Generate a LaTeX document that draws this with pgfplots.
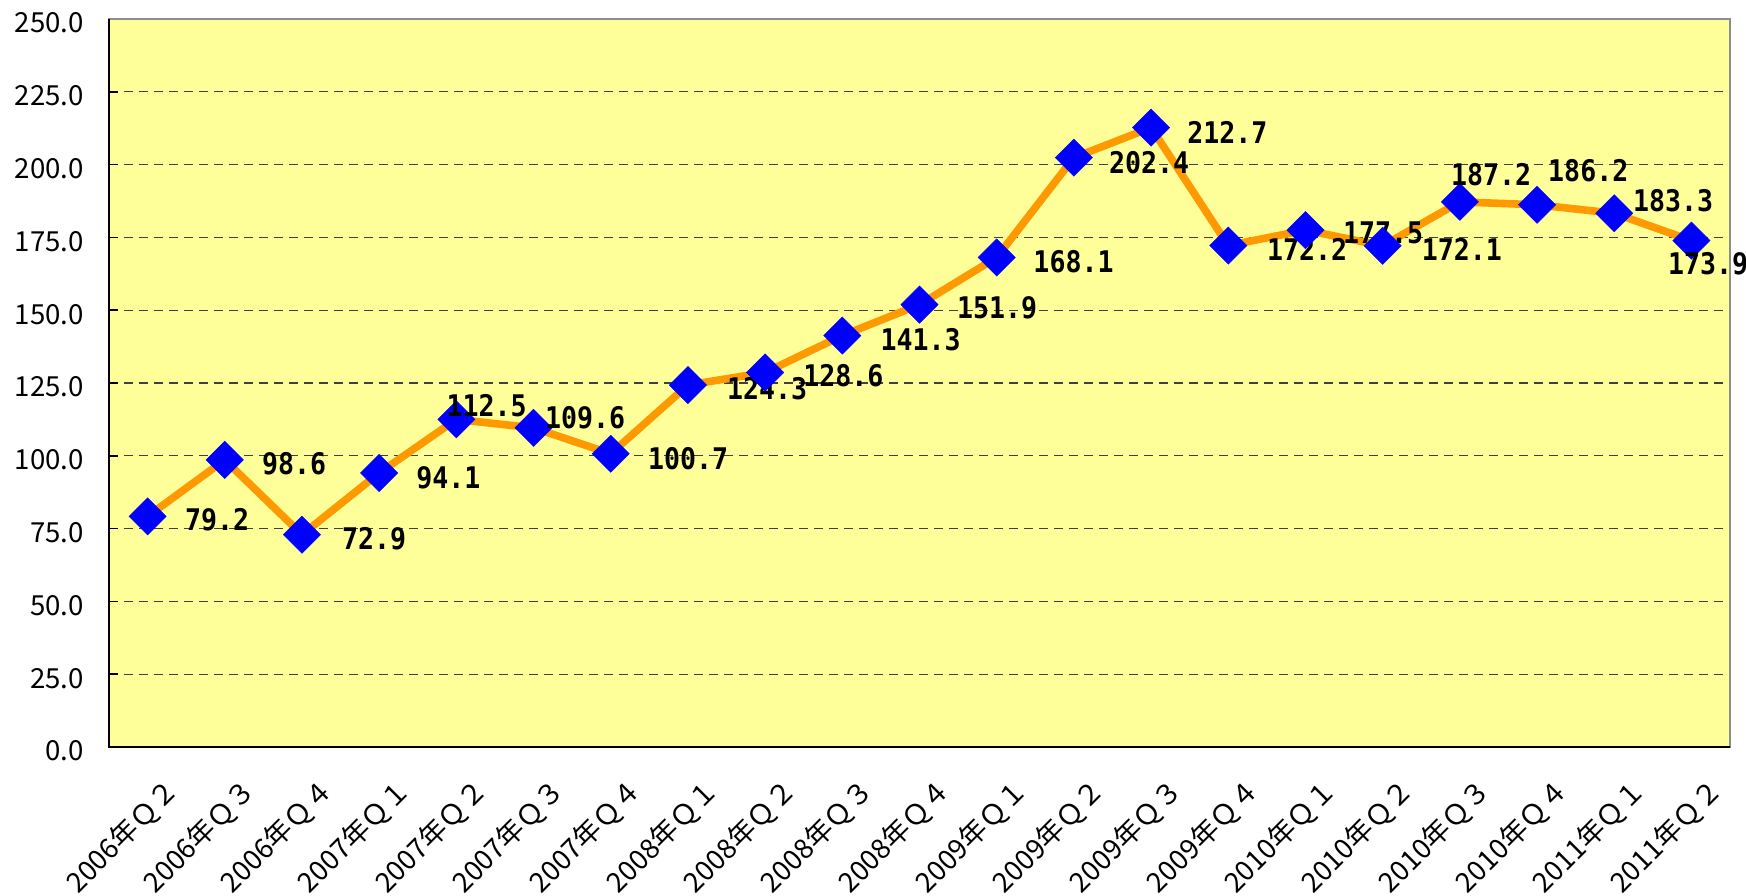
\documentclass[border=0pt]{standalone}
\usepackage{fontspec}
\setmainfont{Noto Sans CJK JP}
\newfontfamily\labelfont{DejaVu Sans Mono}
\usepackage{graphicx}
\usepackage{pgfplots}
\pgfplotsset{compat=1.18}
\usepackage{pgfplotstable}

\definecolor{plotbg}{HTML}{FFFF99}
\definecolor{lineor}{HTML}{FF9900}

% value and label offsets (pt)
\pgfplotstableread{
x y dx dy
0 79.2 18.7 -1.5
1 98.6 18.6 -2
2 72.9 20 -1.8
3 94.1 18.5 -2.2
4 112.5 -5 7
5 109.6 5.7 5
6 100.7 18.6 -2.6
7 124.3 19.5 -2
8 128.6 19 -1.5
9 141.3 19 -2
10 151.9 18.7 -1.5
11 168.1 18.3 -2.2
12 202.4 17.5 -2.5
13 212.7 18 -2.5
14 172.2 19.3 -1.7
15 177.5 18.7 -1.2
16 172.1 19.5 -1.6
17 187.2 -4.5 13.5
18 186.2 5.5 17
19 183.3 9.3 6.5
20 173.9 -11.8 -11.7
}\datatable

\begin{document}
\begin{tikzpicture}
\useasboundingbox (0,0) rectangle (873pt,447.5pt);
\begin{axis}[
    at={(54.5pt,74pt)}, anchor=south west,
    width=810.5pt, height=364pt, scale only axis,
    axis background/.style={fill=plotbg},
    axis line style={draw=black!45, line width=1pt},
    xmin=-0.5, xmax=20.5,
    ymin=0, ymax=250,
    ytick={0,25,...,250},
    xtick={0,...,20},
    xticklabels={2006年Ｑ２,2006年Ｑ３,2006年Ｑ４,2007年Ｑ１,2007年Ｑ２,2007年Ｑ３,2007年Ｑ４,
                 2008年Ｑ１,2008年Ｑ２,2008年Ｑ３,2008年Ｑ４,2009年Ｑ１,2009年Ｑ２,2009年Ｑ３,2009年Ｑ４,
                 2010年Ｑ１,2010年Ｑ２,2010年Ｑ３,2010年Ｑ４,2011年Ｑ１,2011年Ｑ２},
    minor xtick={0.5,1.5,...,19.5},
    xtick style={draw=none},
    minor tick length=5.5pt,
    major tick length=4.5pt,
    tick align=inside,
    tick pos=left,
    tick style={black, line width=0.8pt},
    ymajorgrids,
    major grid style={black!75, line width=0.6pt, dash pattern=on 4.5pt off 3pt},
    /pgf/number format/assume math mode=true,
    yticklabel={\pgfmathprintnumber[fixed,fixed zerofill,precision=1]{\tick}},
    yticklabel style={font=\fontsize{13.8}{15}\selectfont, xshift=-9pt, yshift=-2pt},
    xticklabel style={font=\fontsize{13.8}{15}\selectfont, rotate=45, anchor=east, xshift=-1pt, yshift=-23pt},
    clip=false,
]
\addplot[
    color=lineor, line width=3.8pt,
    mark=square*, mark size=6.6pt,
    mark options={rotate=45, fill=blue, draw=blue, line width=0.2pt},
    visualization depends on={\thisrow{dx}\as\dx},
    visualization depends on={\thisrow{dy}\as\dy},
    nodes near coords={\scalebox{1}[1.12]{\pgfmathprintnumber[fixed,fixed zerofill,precision=1]{\pgfplotspointmeta}}},
    every node near coord/.append style={anchor=west, inner sep=0pt, xshift=\dx pt, yshift=\dy pt,
        text=black, font=\labelfont\bfseries\fontsize{13.3}{15}\selectfont},
] table[x=x, y=y] {\datatable};
\draw[black, line width=1.2pt] (rel axis cs:0,1) -- (rel axis cs:0,0) -- (rel axis cs:1,0);
\end{axis}
\end{tikzpicture}
\end{document}
